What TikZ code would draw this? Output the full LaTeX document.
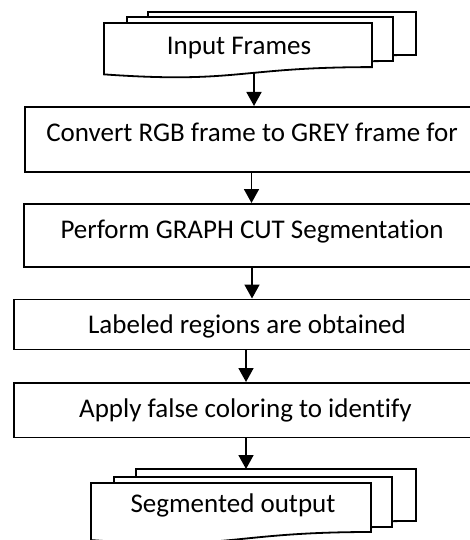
\documentclass[tikz,border=0pt]{standalone}
\usepackage{fontspec}
\setmainfont{Carlito}[Ligatures={NoCommon}]
\usetikzlibrary{arrows.meta}
\tikzset{
  boxshape/.style={draw, fill=white, inner sep=0pt, anchor=north west},
  txt/.style={font=\fontsize{27}{30}\selectfont, anchor=base, inner sep=0pt},
  arr/.style={-{Triangle[width=15pt,length=14pt]}},
  docshape/.style={draw, fill=white}
}
% document shape: left, top, right, height
\newcommand{\mydoc}[5][]{%
  \path[docshape,#1] (#2,#3) -- (#4,#3) -- (#4,{#3+0.802*#5})
    .. controls ({(#2+#4)/2},{#3+0.802*#5}) and ({(#2+#4)/2},{#3+1.107*#5}) .. (#2,{#3+0.934*#5}) -- cycle;}
\begin{document}
\begin{tikzpicture}[x=1pt,y=-1pt,line width=1.8pt]
\useasboundingbox (0,0) rectangle (470,540);
\clip (0,0) rectangle (470,540);
% top multi-document
\mydoc{148}{12}{416}{53.6}
\mydoc{127}{17}{393}{54.9}
\mydoc{104}{23}{372}{55}
\node[txt] (inp) at (239,55) {Input Frames};
\coordinate (inbot) at (254,72.5);
% process boxes
\node[boxshape, minimum width=460pt, minimum height=65pt] (b1) at (24,106) {};
\node[txt] (t1) at (252,142) {Convert RGB frame to GREY frame for};
\node[boxshape, minimum width=458pt, minimum height=63pt] (b2) at (23,203) {};
\node[txt] (t2) at (252,238) {Perform GRAPH CUT Segmentation};
\node[boxshape, minimum width=468pt, minimum height=50pt] (b3) at (13,298.5) {};
\node[txt] (t3) at (247,333) {Labeled regions are obtained};
\node[boxshape, minimum width=466pt, minimum height=54.5pt] (b4) at (13,382) {};
\node[txt] (t4) at (245.5,417) {Apply false coloring to identify};
% bottom multi-document
\mydoc{136}{469}{416}{64.8}
\mydoc{114}{477}{392}{62.3}
\mydoc{91}{483}{371}{61.1}
\node[txt] (outp) at (233,512) {Segmented output};
\coordinate (outtop) at (246,469);
% arrow x positions
\coordinate (x1) at (254,0);
\coordinate (x2) at (251.5,0);
\coordinate (x3) at (252,0);
\coordinate (x4) at (246,0);
% connectors
\draw[arr] (inbot) -- (b1.north -| x1);
\draw[arr] (b1.south -| x2) -- (b2.north -| x2);
\draw[arr] (b2.south -| x3) -- (b3.north -| x3);
\draw[arr] (b3.south -| x4) -- (b4.north -| x4);
\draw[arr] (b4.south -| x4) -- (outtop);
\end{tikzpicture}
\end{document}
